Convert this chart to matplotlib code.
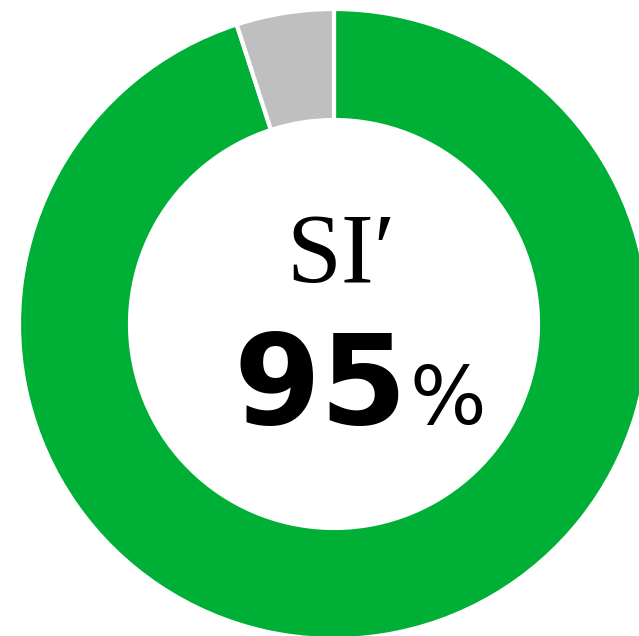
import matplotlib
matplotlib.use("Agg")
import matplotlib.pyplot as plt

labels = ["SI'", "other"]
values = [95, 5]
colors = ["#00AF36", "#BFBFBF"]
title = "SI\u2032"
pct_value = "95"

W, H = 639, 636
fig = plt.figure(figsize=(W / 100, H / 100), dpi=100)
ax = fig.add_axes([0, 0, 1, 1])

cx, cy = 334, H - 324
r_out, r_in = 315, 204
ax.pie(values, colors=colors, startangle=90, counterclock=False,
       center=(cx, cy), radius=r_out, frame=True,
       wedgeprops=dict(width=r_out - r_in, edgecolor="white", linewidth=3))
ax.set_xlim(0, W)
ax.set_ylim(0, H)
ax.set_aspect("equal")
ax.axis("off")

ax.text(341, H - 282, title, ha="center", va="baseline",
        family="Liberation Serif", fontsize=71, color="black")
ax.text(408, H - 424, pct_value, ha="right", va="baseline",
        family="DejaVu Sans", fontweight="bold", fontsize=90, color="black")
ax.text(410, H - 424, "%", ha="left", va="baseline",
        family="DejaVu Sans", fontsize=58, color="black")

fig.savefig("out.png", dpi=100)
